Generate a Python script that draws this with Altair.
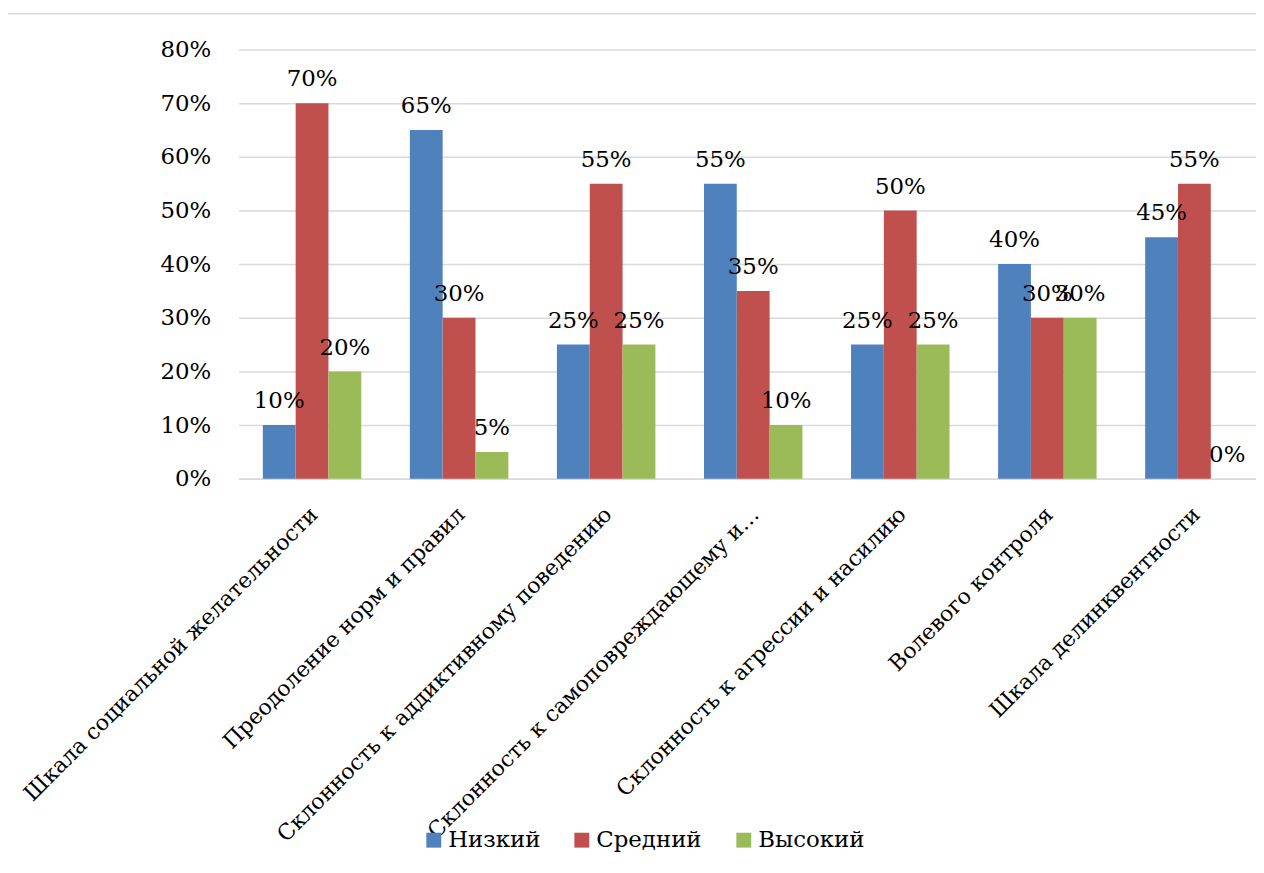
import altair as alt
import pandas as pd

categories = [
    "Шкала социальной желательности",
    "Преодоление норм и правил",
    "Склонность к аддиктивному поведению",
    "Склонность к самоповреждающему и…",
    "Склонность к агрессии и насилию",
    "Волевого контроля",
    "Шкала делинквентности",
]
series = ["Низкий", "Средний", "Высокий"]
low = [10, 65, 25, 55, 25, 40, 45]
mid = [70, 30, 55, 35, 50, 30, 55]
high = [20, 5, 25, 10, 25, 30, 0]
colors = ["#4F81BD", "#C0504D", "#9BBB59"]
y_ticks = [0, 10, 20, 30, 40, 50, 60, 70, 80]

rows = []
for s, vals in zip(series, [low, mid, high]):
    for c, v in zip(categories, vals):
        rows.append({"category": c, "series": s, "value": v / 100})
df = pd.DataFrame(rows)

FONT = "DejaVu Serif"
FS = 23

x_enc = alt.X(
    "category:N",
    sort=categories,
    scale=alt.Scale(paddingInner=0.33, paddingOuter=0.165, range=[0, 1036]),
    axis=alt.Axis(
        title=None,
        labelAngle=-45,
        labelAlign="right",
        labelBaseline="middle",
        labelFont=FONT,
        labelFontSize=22,
        labelColor="#000000",
        labelLimit=2000,
        labelPadding=32,
        labelOffset=2,
        ticks=False,
        domain=True,
        domainColor="#D9D9D9",
        domainWidth=1.5,
        labelOverlap=False,
    ),
)
xoff = alt.XOffset("series:N", sort=series, scale=alt.Scale(paddingInner=0, paddingOuter=0))
y_enc = alt.Y(
    "value:Q",
    scale=alt.Scale(domain=[0, 0.8], nice=False),
    axis=alt.Axis(
        title=None,
        format=".0%",
        values=[v / 100 for v in y_ticks],
        labelFont=FONT,
        labelFontSize=FS,
        labelColor="#000000",
        labelPadding=28,
        ticks=False,
        domain=False,
        grid=True,
        gridColor="#D9D9D9",
        gridWidth=1.5,
    ),
)

bars = alt.Chart(df).mark_bar(size=33).encode(
    x=x_enc,
    xOffset=xoff,
    y=y_enc,
    color=alt.Color(
        "series:N",
        sort=series,
        scale=alt.Scale(domain=series, range=colors),
        legend=alt.Legend(
            title=None,
            orient="none",
            legendX=185,
            legendY=784,
            direction="horizontal",
            symbolType="square",
            symbolSize=225,
            symbolStrokeWidth=0,
            labelFont=FONT,
            labelFontSize=FS,
            labelColor="#000000",
            labelOffset=3,
            columnPadding=30,
        ),
    ),
)

labels = alt.Chart(df).mark_text(
    dy=-17, baseline="alphabetic", align="center", font=FONT, fontSize=FS, color="#000000"
).encode(
    x=alt.X("category:N", sort=categories),
    xOffset=alt.XOffset("series:N", sort=series),
    y=alt.Y("value:Q"),
    text=alt.Text("value:Q", format=".0%"),
)

frame_df = pd.DataFrame({"k": [0]})
frame_left = alt.Chart(frame_df).mark_rule(color="#D9D9D9", strokeWidth=1.5).encode(
    x=alt.value(-233), y=alt.value(-36), y2=alt.value(900)
)
frame_top = alt.Chart(frame_df).mark_rule(color="#D9D9D9", strokeWidth=1.5).encode(
    x=alt.value(-233), x2=alt.value(1100), y=alt.value(-36)
)

chart = alt.layer(bars, labels, frame_left, frame_top).properties(
    width=1024,
    height=432,
    autosize=alt.AutoSizeParams(type="none"),
    padding={"left": 232, "top": 39, "right": 0, "bottom": 388},
    background="#FFFFFF",
).configure(font=FONT).configure_view(stroke=None)

chart.save("out.html", embed_options={"renderer": "svg", "actions": False})
